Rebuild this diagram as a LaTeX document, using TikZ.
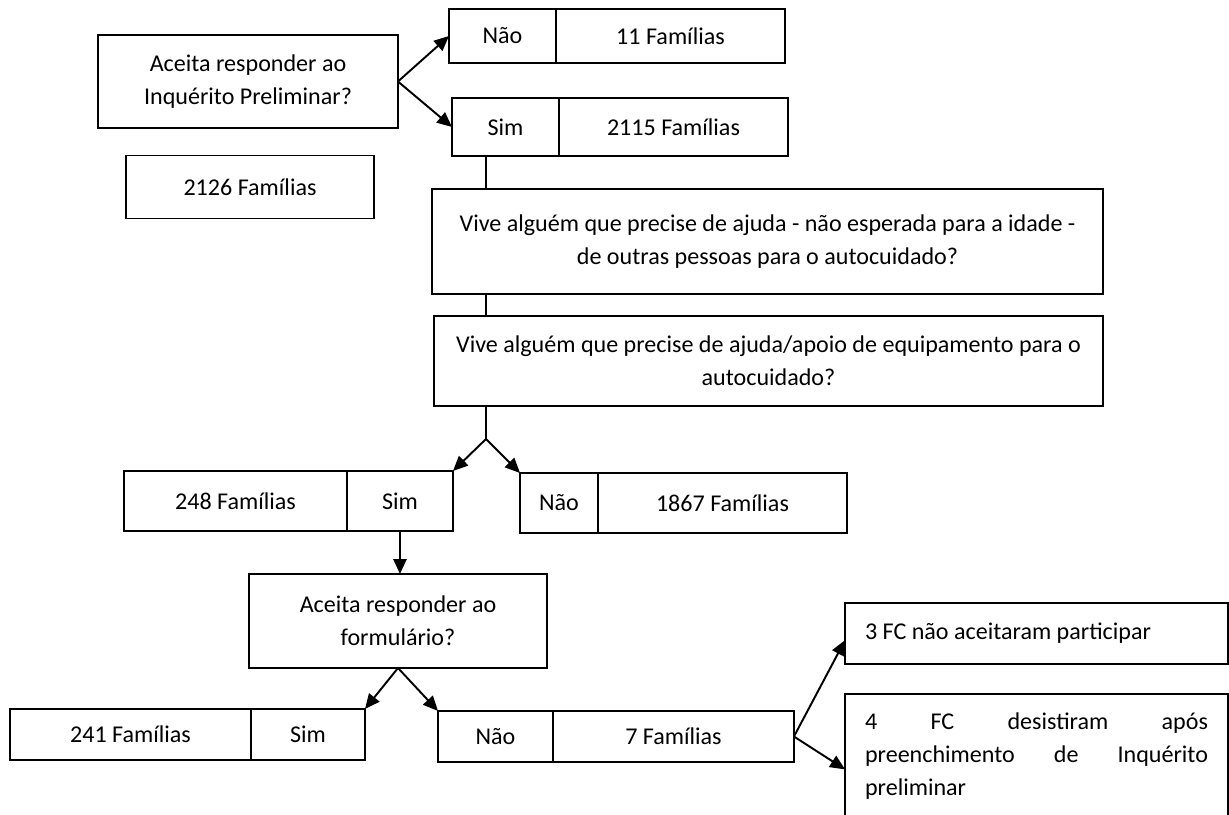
\documentclass[tikz,border=0pt]{standalone}
\usepackage{fontspec}
\setmainfont{Carlito}
\usepackage{tikz}
\usetikzlibrary{positioning,arrows.meta}

\begin{document}
\begin{tikzpicture}[
        x=0.02cm, y=-0.02cm,
        cell/.style={rectangle, draw=black, line width=1pt, inner sep=0pt, outer sep=0pt, align=center, font=\fontsize{13.7}{18.8}\selectfont},
        question/.style={cell, minimum width=6cm, minimum height=1.86cm},
        note/.style={cell, minimum width=7.66cm, text width=6.86cm},
        flow/.style={-{Triangle[length=8.5pt, width=7.5pt]}, line width=1.1pt},
        link/.style={line width=1pt}
    ]
    \useasboundingbox (0,0) rectangle (1229,814);
    \clip (0,0) rectangle (1229,814);

    % Inquerito preliminar
    \node[question] (q1) at (248, 81.5) {Aceita responder ao\\ Inquérito Preliminar?};
    \node[cell, minimum width=4.96cm, minimum height=1.26cm] (total) at (250, 187) {2126 Famílias};

    \node[cell, minimum width=2.14cm, minimum height=1.08cm] (nao1) at (502.5, 36) {Não};
    \node[cell, minimum width=4.58cm, minimum height=1.08cm, right=0pt of nao1] (nao1n) {11 Famílias};
    \node[cell, minimum width=2.14cm, minimum height=1.16cm] (sim1) at (505.5, 127) {Sim};
    \node[cell, minimum width=4.58cm, minimum height=1.16cm, right=0pt of sim1] (sim1n) {2115 Famílias};

    % Perguntas de triagem
    \node[cell, minimum width=13.42cm, minimum height=2.1cm] (vive1) at (767.5, 241.5) {Vive alguém que precise de ajuda - não esperada para a idade -\\ de outras pessoas para o autocuidado?};
    \node[cell, minimum width=13.38cm, minimum height=1.8cm] (vive2) at (768.5, 361) {Vive alguém que precise de ajuda/apoio de equipamento para o\\ autocuidado?};
    \coordinate (split1) at (486, 439);

    \node[cell, minimum width=4.46cm, minimum height=1.2cm] (fam248) at (235.5, 501) {248 Famílias};
    \node[cell, minimum width=2.12cm, minimum height=1.2cm, right=0pt of fam248] (sim2) {Sim};
    \node[cell, minimum width=1.56cm, minimum height=1.2cm] (nao2) at (559, 503) {Não};
    \node[cell, minimum width=4.98cm, minimum height=1.2cm, right=0pt of nao2] (nao2n) {1867 Famílias};

    % Formulario
    \node[question, minimum width=5.96cm, minimum height=1.88cm] (q2) at (398, 621) {Aceita responder ao\\ formulário?};

    \node[cell, minimum width=4.82cm, minimum height=1.02cm] (fam241) at (130.5, 734.5) {241 Famílias};
    \node[cell, minimum width=2.28cm, minimum height=1.02cm, right=0pt of fam241] (sim3) {Sim};
    \node[cell, minimum width=2.3cm, minimum height=1.02cm] (nao3) at (495.5, 736.5) {Não};
    \node[cell, minimum width=4.82cm, minimum height=1.02cm, right=0pt of nao3] (nao3n) {7 Famílias};

    \node[note, minimum height=1.22cm, align=flush left] (fc3) at (1036.5, 633.5) {3 FC não aceitaram participar};
    \node[note, minimum height=2.48cm, align=justify] (fc4) at (1036.5, 756) {4 FC desistiram após\linebreak preenchimento de Inquérito\linebreak preliminar};

    % Ligacoes
    \draw[flow] (q1.east) -- (nao1.west);
    \draw[flow] (q1.east) -- (sim1.west);
    \draw[link] (split1 |- sim1.south) -- (split1 |- vive1.north);
    \draw[link] (split1 |- vive1.south) -- (split1 |- vive2.north);
    \draw[link] (split1 |- vive2.south) -- (split1);
    \draw[flow] (split1) -- (sim2.north east);
    \draw[flow] (split1) -- (nao2.north west);
    \draw[flow] (sim2.south) -- (sim2.south |- q2.north);
    \draw[flow] (q2.south) -- (sim3.north east);
    \draw[flow] (q2.south) -- (nao3.north west);
    \draw[flow] (nao3n.east) -- (fc3.182);
    \draw[flow] (nao3n.east) -- (fc4.184);

\end{tikzpicture}
\end{document}
